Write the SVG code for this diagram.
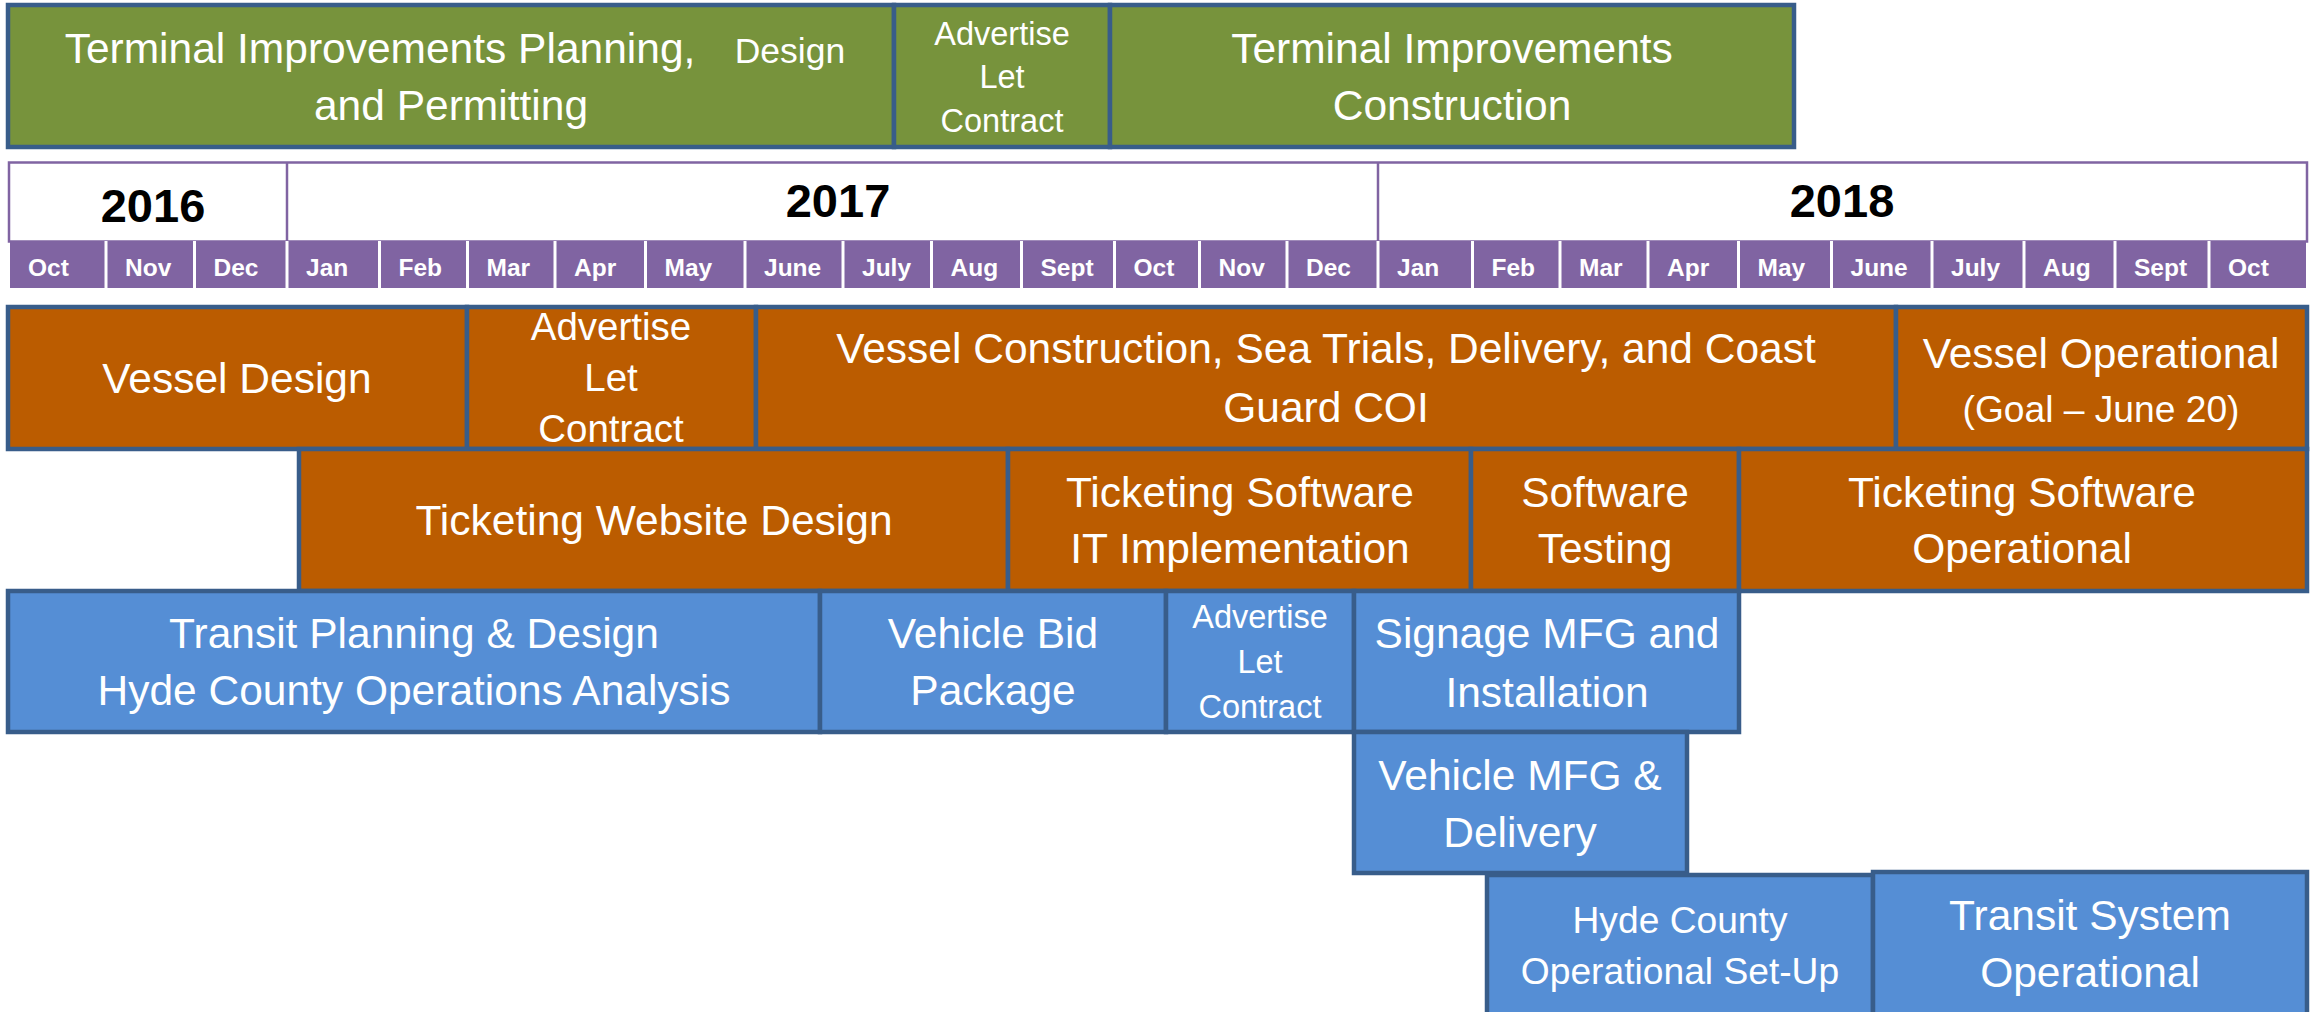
<svg xmlns="http://www.w3.org/2000/svg" width="2316" height="1012" viewBox="0 0 2316 1012">
<style>
  .box { stroke: #385D8A; stroke-width: 4.5; }
  .green { fill: #77933C; }
  .orange { fill: #BB5C00; }
  .blue { fill: #558ED5; }
  .t { font-family: "Liberation Sans", Arial, sans-serif; fill: #FFFFFF; text-anchor: middle; font-size: 42.5px; }
  .m { font-size: 38.5px; }
  .n { font-size: 37.2px; }
  .s { font-size: 32.5px; }
  .yr { font-family: "Liberation Sans", Arial, sans-serif; font-weight: bold; font-size: 47px; fill: #000000; text-anchor: middle; }
  .mo { font-family: "Liberation Sans", Arial, sans-serif; font-weight: bold; font-size: 24.5px; fill: #FFFFFF; text-anchor: start; }
  .cell { fill: #8064A2; }
  .sep { stroke: #FFFFFF; stroke-width: 3; }
</style>
<rect x="0" y="0" width="2316" height="1012" fill="#FFFFFF"/>

<!-- Terminal (green) row -->
<g id="terminal-planning">
  <rect class="box green" x="8" y="5" width="886" height="142"/>
  <text class="t" y="63"><tspan x="380">Terminal Improvements Planning,</tspan><tspan x="790" style="font-size:35.5px">Design</tspan></text>
  <text class="t" x="451" y="120">and Permitting</text>
</g>
<g id="terminal-advertise">
  <rect class="box green" x="894" y="5" width="216" height="142"/>
  <text class="t s" x="1002" y="45">Advertise</text>
  <text class="t s" x="1002" y="88">Let</text>
  <text class="t s" x="1002" y="132">Contract</text>
</g>
<g id="terminal-construction">
  <rect class="box green" x="1110" y="5" width="684" height="142"/>
  <text class="t" x="1452" y="63">Terminal Improvements</text>
  <text class="t" x="1452" y="120">Construction</text>
</g>

<!-- Timeline -->
<g id="timeline">
  <rect x="9" y="162.5" width="2298" height="79" fill="#FFFFFF" stroke="#8064A2" stroke-width="2.5"/>
  <line x1="287" y1="162.5" x2="287" y2="242" stroke="#8064A2" stroke-width="2.5"/>
  <line x1="1378" y1="162.5" x2="1378" y2="242" stroke="#8064A2" stroke-width="2.5"/>
  <text class="yr" x="153" y="222">2016</text>
  <text class="yr" x="838" y="217">2017</text>
  <text class="yr" x="1842" y="217">2018</text>
  <rect class="cell" x="10" y="241" width="2296" height="47"/>
  <g class="sep">
    <line x1="106" y1="241" x2="106" y2="288"/>
    <line x1="194.5" y1="241" x2="194.5" y2="288"/>
    <line x1="287" y1="241" x2="287" y2="288"/>
    <line x1="379.5" y1="241" x2="379.5" y2="288"/>
    <line x1="467.5" y1="241" x2="467.5" y2="288"/>
    <line x1="555" y1="241" x2="555" y2="288"/>
    <line x1="645.5" y1="241" x2="645.5" y2="288"/>
    <line x1="745" y1="241" x2="745" y2="288"/>
    <line x1="843" y1="241" x2="843" y2="288"/>
    <line x1="931.5" y1="241" x2="931.5" y2="288"/>
    <line x1="1021.5" y1="241" x2="1021.5" y2="288"/>
    <line x1="1114.5" y1="241" x2="1114.5" y2="288"/>
    <line x1="1199.5" y1="241" x2="1199.5" y2="288"/>
    <line x1="1287" y1="241" x2="1287" y2="288"/>
    <line x1="1378" y1="241" x2="1378" y2="288"/>
    <line x1="1472.5" y1="241" x2="1472.5" y2="288"/>
    <line x1="1560" y1="241" x2="1560" y2="288"/>
    <line x1="1648" y1="241" x2="1648" y2="288"/>
    <line x1="1738.5" y1="241" x2="1738.5" y2="288"/>
    <line x1="1831.5" y1="241" x2="1831.5" y2="288"/>
    <line x1="1932" y1="241" x2="1932" y2="288"/>
    <line x1="2024" y1="241" x2="2024" y2="288"/>
    <line x1="2115" y1="241" x2="2115" y2="288"/>
    <line x1="2209" y1="241" x2="2209" y2="288"/>
  </g>
  <text class="mo" x="28" y="276">Oct</text>
  <text class="mo" x="125" y="276">Nov</text>
  <text class="mo" x="213.5" y="276">Dec</text>
  <text class="mo" x="306" y="276">Jan</text>
  <text class="mo" x="398.5" y="276">Feb</text>
  <text class="mo" x="486.5" y="276">Mar</text>
  <text class="mo" x="574" y="276">Apr</text>
  <text class="mo" x="664.5" y="276">May</text>
  <text class="mo" x="764" y="276">June</text>
  <text class="mo" x="862" y="276">July</text>
  <text class="mo" x="950.5" y="276">Aug</text>
  <text class="mo" x="1040.5" y="276">Sept</text>
  <text class="mo" x="1133.5" y="276">Oct</text>
  <text class="mo" x="1218.5" y="276">Nov</text>
  <text class="mo" x="1306" y="276">Dec</text>
  <text class="mo" x="1397" y="276">Jan</text>
  <text class="mo" x="1491.5" y="276">Feb</text>
  <text class="mo" x="1579" y="276">Mar</text>
  <text class="mo" x="1667" y="276">Apr</text>
  <text class="mo" x="1757.5" y="276">May</text>
  <text class="mo" x="1850.5" y="276">June</text>
  <text class="mo" x="1951" y="276">July</text>
  <text class="mo" x="2043" y="276">Aug</text>
  <text class="mo" x="2134" y="276">Sept</text>
  <text class="mo" x="2228" y="276">Oct</text>
</g>

<!-- Vessel (orange) row -->
<g id="vessel-design">
  <rect class="box orange" x="8" y="307" width="459" height="142"/>
  <text class="t" x="237" y="393">Vessel Design</text>
</g>
<g id="vessel-advertise">
  <rect class="box orange" x="467" y="307" width="289" height="142"/>
  <text class="t m" x="611" y="340">Advertise</text>
  <text class="t m" x="611" y="391">Let</text>
  <text class="t m" x="611" y="442">Contract</text>
</g>
<g id="vessel-construction">
  <rect class="box orange" x="756" y="307" width="1140" height="142"/>
  <text class="t" x="1326" y="363">Vessel Construction, Sea Trials, Delivery, and Coast</text>
  <text class="t" x="1326" y="422">Guard COI</text>
</g>
<g id="vessel-operational">
  <rect class="box orange" x="1896" y="307" width="411" height="142"/>
  <text class="t" x="2101" y="368">Vessel Operational</text>
  <text class="t n" x="2101" y="422">(Goal – June 20)</text>
</g>

<!-- Ticketing (orange) row -->
<g id="ticketing-website">
  <rect class="box orange" x="299" y="449" width="709" height="142"/>
  <text class="t" x="654" y="535">Ticketing Website Design</text>
</g>
<g id="ticketing-it">
  <rect class="box orange" x="1008" y="449" width="463" height="142"/>
  <text class="t" x="1240" y="507">Ticketing Software</text>
  <text class="t" x="1240" y="563">IT Implementation</text>
</g>
<g id="software-testing">
  <rect class="box orange" x="1471" y="449" width="268" height="142"/>
  <text class="t" x="1605" y="507">Software</text>
  <text class="t" x="1605" y="563">Testing</text>
</g>
<g id="ticketing-operational">
  <rect class="box orange" x="1739" y="449" width="568" height="142"/>
  <text class="t" x="2022" y="507">Ticketing Software</text>
  <text class="t" x="2022" y="563">Operational</text>
</g>

<!-- Transit (blue) rows -->
<g id="transit-planning">
  <rect class="box blue" x="8" y="591" width="812" height="141"/>
  <text class="t" x="414" y="648">Transit Planning &amp; Design</text>
  <text class="t" x="414" y="705">Hyde County Operations Analysis</text>
</g>
<g id="vehicle-bid">
  <rect class="box blue" x="820" y="591" width="346" height="141"/>
  <text class="t" x="993" y="648">Vehicle Bid</text>
  <text class="t" x="993" y="705">Package</text>
</g>
<g id="transit-advertise">
  <rect class="box blue" x="1166" y="591" width="188" height="141"/>
  <text class="t s" x="1260" y="628">Advertise</text>
  <text class="t s" x="1260" y="673">Let</text>
  <text class="t s" x="1260" y="718">Contract</text>
</g>
<g id="signage">
  <rect class="box blue" x="1354" y="591" width="385" height="141"/>
  <text class="t" x="1547" y="648">Signage MFG and</text>
  <text class="t" x="1547" y="707">Installation</text>
</g>
<g id="vehicle-mfg">
  <rect class="box blue" x="1354" y="732" width="333" height="141"/>
  <text class="t" x="1520" y="790">Vehicle MFG &amp;</text>
  <text class="t" x="1520" y="847">Delivery</text>
</g>
<g id="hyde-setup">
  <rect class="box blue" x="1487" y="875" width="386" height="160"/>
  <text class="t n" x="1680" y="933">Hyde County</text>
  <text class="t n" x="1680" y="984">Operational Set-Up</text>
</g>
<g id="transit-operational">
  <rect class="box blue" x="1873" y="872" width="434" height="163"/>
  <text class="t" x="2090" y="930">Transit System</text>
  <text class="t" x="2090" y="987">Operational</text>
</g>

<g id="connectors"></g>
</svg>
